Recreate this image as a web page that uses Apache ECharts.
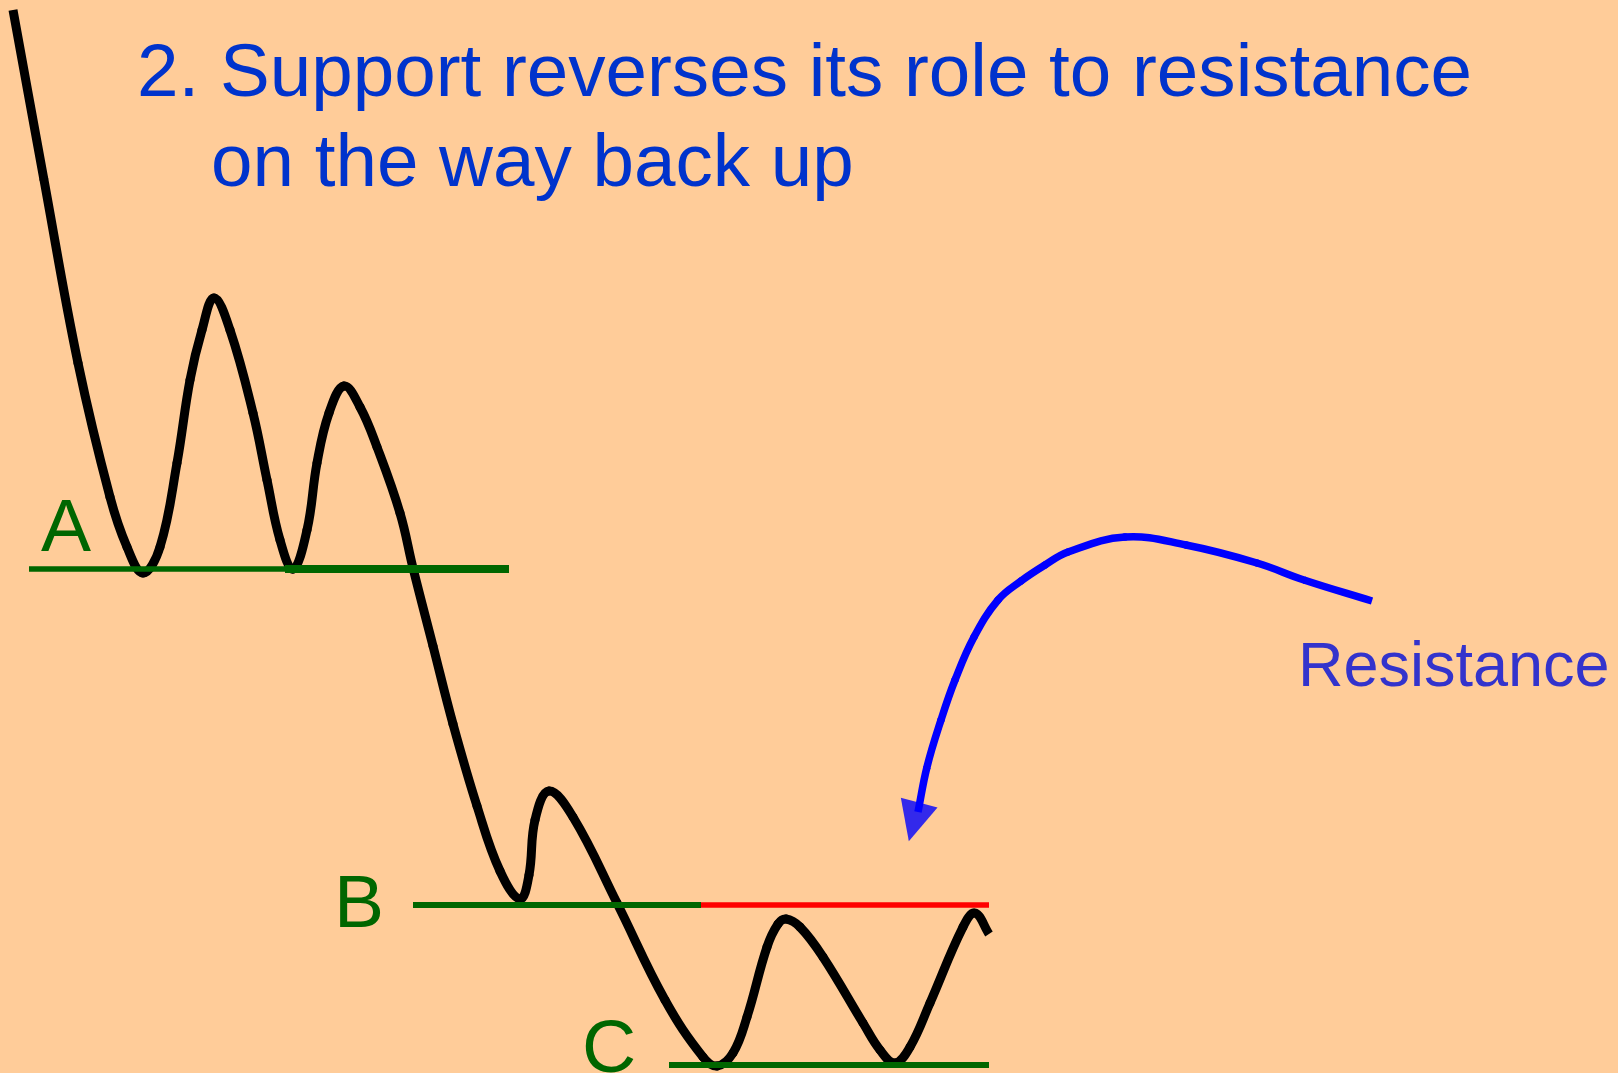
<!DOCTYPE html>
<html>
<head>
<meta charset="utf-8">
<title>Support reverses its role to resistance</title>
<script src="https://cdn.jsdelivr.net/npm/echarts@6/dist/echarts.min.js"></script>
<style>
html, body { margin: 0; padding: 0; background: #ffcc99; }
#main { width: 1618px; height: 1073px; }
</style>
</head>
<body>
<div id="main"></div>
<script>
// price path (x right, y down)
var priceX = [13, 44, 78, 110, 127, 143, 160, 177, 190, 202, 214, 230, 253, 267, 280, 293, 307, 317, 329, 344, 360, 377, 400, 413, 433, 453, 477, 500, 520, 529, 535, 549, 573, 617, 665, 703, 717, 733, 747, 767, 778, 786, 800, 823, 863, 880, 895, 910, 930, 963, 975, 989];
var priceY = [10, 180, 363, 497, 547, 573, 547, 463, 380, 330, 298, 330, 413, 480, 540, 569, 530, 463, 413, 386, 407, 447, 513, 568, 646, 724, 806, 871, 899, 875, 820, 791, 817, 903, 1000, 1057, 1066, 1053, 1017, 947, 924, 919, 927, 957, 1023, 1050, 1063, 1047, 1003, 927, 913, 934];

// curved arrow pointing at the old support
var arrowX = [1372, 1304, 1257, 1186, 1125, 1068, 1045, 1021, 998, 974, 955, 941, 927, 918];
var arrowY = [601, 580, 563, 545, 537, 552, 565, 581, 600, 637, 680, 720, 767, 812];
var arrowHead = [914, 822];

// support / resistance levels: [xStart, xEnd, y]
var levelAThin = [29, 290, 569];
var levelAThick = [285, 509, 569];
var levelBSupport = [413, 701, 905];
var levelBResist = [701, 989, 905];
var levelC = [669, 989, 1065];

var titleLines = ['2. Support reverses its role to resistance', 'on the way back up'];
var levelNames = ['A', 'B', 'C'];
var noteText = 'Resistance';

var FONT = '"Liberation Sans", Arial, Helvetica, sans-serif';

function toPairs(xs, ys) {
	var out = [];
	for (var i = 0; i < xs.length; i++) {
		out.push([xs[i], ys[i]]);
	}
	return out;
}

function dist(a, b) {
	return Math.sqrt((a[0] - b[0]) * (a[0] - b[0]) + (a[1] - b[1]) * (a[1] - b[1]));
}

// 水平线
function levelSeries(name, lv, color, width) {
	return {
		name: name,
		type: 'line',
		data: [[lv[0], lv[2]], [lv[1], lv[2]]],
		symbol: 'none',
		silent: true,
		z: 4,
		lineStyle: { color: color, width: width, cap: 'butt' }
	};
}

/**
 * one smooth stroke through all points (pixel positions from api.coord),
 * drawn as cubic pieces whose tangent at each point runs along next - prev
 */
function curveSeries(name, xs, ys, color, width, tension) {
	return {
		name: name,
		type: 'custom',
		data: toPairs(xs, ys),
		silent: true,
		z: 3,
		renderItem: function (params, api) {
			if (params.dataIndex !== 0) {
				return null;
			}
			var p = [];
			var i;
			for (i = 0; i < xs.length; i++) {
				p.push(api.coord([xs[i], ys[i]]));
			}
			var n = p.length;
			var children = [];
			for (i = 0; i < n - 1; i++) {
				var p0 = p[i > 0 ? i - 1 : i];
				var p1 = p[i];
				var p2 = p[i + 1];
				var p3 = p[i + 2 < n ? i + 2 : i + 1];
				var d01 = dist(p0, p1);
				var d12 = dist(p1, p2);
				var d23 = dist(p2, p3);
				var a1 = tension * d12 / ((d01 + d12) || 1);
				var a2 = tension * d12 / ((d12 + d23) || 1);
				children.push({
					type: 'bezierCurve',
					shape: {
						x1: p1[0], y1: p1[1],
						x2: p2[0], y2: p2[1],
						cpx1: p1[0] + (p2[0] - p0[0]) * a1,
						cpy1: p1[1] + (p2[1] - p0[1]) * a1,
						cpx2: p2[0] - (p3[0] - p1[0]) * a2,
						cpy2: p2[1] - (p3[1] - p1[1]) * a2
					},
					style: {
						stroke: color,
						lineWidth: width,
						fill: null,
						lineCap: (i === 0 || i === n - 2) ? 'butt' : 'round'
					}
				});
			}
			return { type: 'group', children: children };
		}
	};
}

// text, y given at the alphabetic baseline
function textAt(str, x, baseline, size, color) {
	return {
		type: 'text',
		x: x,
		y: baseline - size * 0.3465,
		silent: true,
		style: {
			text: str,
			fill: color,
			font: size + 'px ' + FONT,
			align: 'left',
			verticalAlign: 'middle'
		}
	};
}

var chart = echarts.init(document.getElementById('main'), null, { renderer: 'canvas' });

var option = {
	animation: false,
	backgroundColor: '#ffcc99',
	grid: { left: 0, right: 0, top: 0, bottom: 0, containLabel: false },
	xAxis: { type: 'value', min: 0, max: 1618, show: false },
	yAxis: { type: 'value', min: 0, max: 1073, inverse: true, show: false },
	graphic: [
		textAt(titleLines[0], 137, 101, 74.6, '#0033cc'),
		textAt(titleLines[1], 211, 191, 74.6, '#0033cc'),
		textAt(levelNames[0], 41, 556, 75, '#006600'),
		textAt(levelNames[1], 334, 932, 75, '#006600'),
		textAt(levelNames[2], 582, 1077, 75, '#006600'),
		textAt(noteText, 1298, 690, 63, '#3333cc')
	],
	series: [
		curveSeries('price', priceX, priceY, '#000000', 9, 0.4),
		levelSeries('A', levelAThin, '#006600', 5.7),
		levelSeries('A2', levelAThick, '#006600', 8),
		levelSeries('B', levelBSupport, '#006600', 6),
		levelSeries('B2', levelBResist, '#ff0000', 5.7),
		levelSeries('C', levelC, '#006600', 6),
		curveSeries('arrow', arrowX, arrowY, '#0000ff', 7.5, 0.4),
		{
			name: 'arrowHead',
			type: 'scatter',
			data: [arrowHead],
			symbol: 'triangle',
			symbolSize: [38, 40],
			symbolRotate: 165,
			silent: true,
			z: 3,
			itemStyle: { color: '#0000ff' }
		}
	]
};

chart.setOption(option);
</script>
</body>
</html>
